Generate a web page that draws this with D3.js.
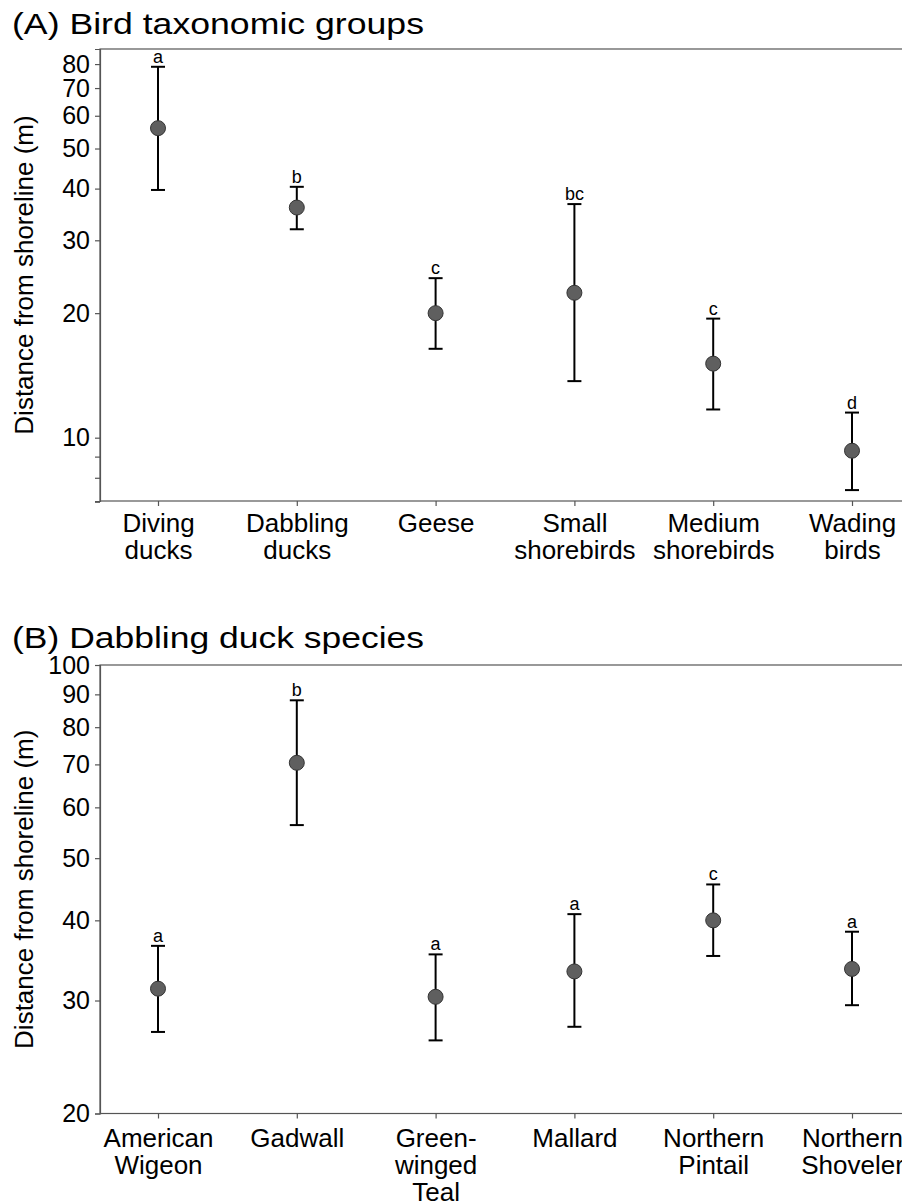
<!DOCTYPE html>
<html>
<head>
<meta charset="utf-8">
<script src="https://cdn.jsdelivr.net/npm/d3@7"></script>
<style>
  html, body { margin: 0; padding: 0; background: #fff; }
  svg { display: block; font-family: "Liberation Sans", Arial, sans-serif; }
</style>
</head>
<body>
<svg id="chart" width="902" height="1203"></svg>
<script>
// ---------- Data ----------
const categoriesA = ["Diving ducks", "Dabbling ducks", "Geese", "Small shorebirds", "Medium shorebirds", "Wading birds"];
const meanA  = [56.0, 36.0, 20.0, 22.4, 15.1, 9.3];
const lowerA = [39.7, 31.9, 16.4, 13.7, 11.7, 7.47];
const upperA = [78.8, 40.4, 24.3, 36.7, 19.4, 11.5];
const lettersA = ["a", "b", "c", "bc", "c", "d"];
const ticksA = [7, 8, 9, 10, 20, 30, 40, 50, 60, 70, 80];
const tickLabelsA = ["", "", "", "10", "20", "30", "40", "50", "60", "70", "80"];

const categoriesB = ["American Wigeon", "Gadwall", "Green- winged Teal", "Mallard", "Northern Pintail", "Northern Shoveler"];
const meanB  = [31.3, 70.4, 30.4, 33.3, 40.0, 33.6];
const lowerB = [26.8, 56.3, 26.0, 27.3, 35.2, 29.5];
const upperB = [36.5, 88.1, 35.4, 40.9, 45.5, 38.4];
const lettersB = ["a", "b", "a", "a", "c", "a"];
const ticksB = [20, 30, 40, 50, 60, 70, 80, 90, 100];
const tickLabelsB = ["20", "30", "40", "50", "60", "70", "80", "90", "100"];

const titleA = "(A) Bird taxonomic groups";
const titleB = "(B) Dabbling duck species";
const yTitle = "Distance from shoreline (m)";

// ---------- Drawing ----------
const svg = d3.select("#chart");
const axisColor = "#555";
const FONT = "Liberation Sans, Arial, sans-serif";

function panel(cfg) {
  const g = svg.append("g");
  const x = d3.scalePoint().domain(cfg.categories).range([cfg.left + 58, cfg.left + 752]);
  const y = d3.scaleLog().domain(cfg.domain).range([cfg.bottom, cfg.top]);

  // title
  g.append("text").attr("x", 12).attr("y", cfg.titleY)
    .attr("font-size", 29).attr("fill", "#000")
    .attr("textLength", 412).attr("lengthAdjust", "spacingAndGlyphs")
    .text(cfg.title);

  // frame (right side runs off the canvas)
  g.append("rect").attr("x", cfg.left).attr("y", cfg.top)
    .attr("width", 900).attr("height", cfg.bottom - cfg.top)
    .attr("fill", "none").attr("stroke", axisColor).attr("stroke-width", 1.2);

  // y axis
  const yAxis = d3.axisLeft(y).tickValues(cfg.ticks).tickSize(5).tickPadding(5)
    .tickFormat(d => cfg.tickLabels[cfg.ticks.indexOf(d)]);
  const ya = g.append("g").attr("transform", `translate(${cfg.left},0)`).call(yAxis);
  ya.select(".domain").attr("stroke", axisColor).attr("stroke-width", 1.2);
  ya.selectAll(".tick line").attr("stroke", axisColor).attr("stroke-width", 1.2);
  ya.selectAll(".tick text").attr("font-size", 25).attr("fill", "#000")
    .attr("font-family", FONT);

  // x axis
  const xAxis = d3.axisBottom(x).tickSize(5).tickFormat("");
  const xa = g.append("g").attr("transform", `translate(0,${cfg.bottom})`).call(xAxis);
  xa.select(".domain").remove();
  xa.selectAll(".tick line").attr("stroke", axisColor).attr("stroke-width", 1.2);
  xa.selectAll(".tick").each(function(d) {
    const words = d.split(" ");
    const t = d3.select(this).append("text")
      .attr("text-anchor", "middle").attr("font-size", 26).attr("fill", "#000")
      .attr("font-family", FONT);
    words.forEach((w, i) => {
      t.append("tspan").attr("x", 0).attr("y", cfg.labelDy + i * 27).text(w);
    });
  });

  // y title
  g.append("text")
    .attr("transform", `translate(33,${(cfg.top + cfg.bottom) / 2}) rotate(-90)`)
    .attr("text-anchor", "middle").attr("font-size", 26).attr("fill", "#000")
    .text(yTitle);

  // error bars
  const rows = cfg.categories.map((c, i) => ({c, m: cfg.mean[i], lo: cfg.lower[i], hi: cfg.upper[i], l: cfg.letters[i]}));
  const eb = g.append("g").selectAll("g").data(rows).join("g");
  eb.append("line").attr("x1", d => x(d.c)).attr("x2", d => x(d.c))
    .attr("y1", d => y(d.lo)).attr("y2", d => y(d.hi))
    .attr("stroke", "#000").attr("stroke-width", 2);
  eb.append("line").attr("x1", d => x(d.c) - 7).attr("x2", d => x(d.c) + 7)
    .attr("y1", d => y(d.hi)).attr("y2", d => y(d.hi))
    .attr("stroke", "#000").attr("stroke-width", 2);
  eb.append("line").attr("x1", d => x(d.c) - 7).attr("x2", d => x(d.c) + 7)
    .attr("y1", d => y(d.lo)).attr("y2", d => y(d.lo))
    .attr("stroke", "#000").attr("stroke-width", 2);
  eb.append("circle").attr("cx", d => x(d.c)).attr("cy", d => y(d.m)).attr("r", 7.5)
    .attr("fill", "#5f5f5f").attr("stroke", "#333").attr("stroke-width", 1);
  eb.append("text").attr("x", d => x(d.c)).attr("y", d => y(d.hi) - 4)
    .attr("text-anchor", "middle").attr("font-size", 18).attr("fill", "#000")
    .text(d => d.l);
}

panel({
  title: titleA, titleY: 34, categories: categoriesA,
  mean: meanA, lower: lowerA, upper: upperA, letters: lettersA,
  ticks: ticksA, tickLabels: tickLabelsA,
  domain: [7.03, 87], top: 49, bottom: 501, left: 100, labelDy: 31
});
panel({
  title: titleB, titleY: 648, categories: categoriesB,
  mean: meanB, lower: lowerB, upper: upperB, letters: lettersB,
  ticks: ticksB, tickLabels: tickLabelsB,
  domain: [20, 100], top: 665, bottom: 1113.5, left: 100, labelDy: 33
});
</script>
</body>
</html>
